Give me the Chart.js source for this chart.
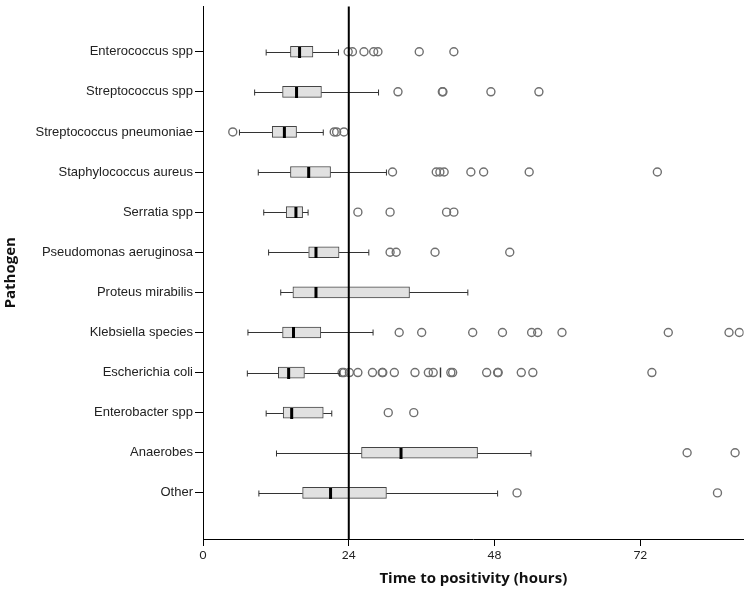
<!DOCTYPE html>
<html lang="en">
<head>
  <meta charset="UTF-8" />
  <title>Time to positivity by pathogen</title>
  <script src="https://cdn.jsdelivr.net/npm/chart.js"></script>
  <style>
    html, body { margin: 0; padding: 0; background: #fff; }
    #wrap { width: 750px; height: 594px; }
  </style>
</head>
<body>
  <div id="wrap"><canvas id="boxChart" width="750" height="594"></canvas></div>

  <script>
    // pathogens, top to bottom
    const pathogens = [
      "Enterococcus spp", "Streptococcus spp", "Streptococcus pneumoniae",
      "Staphylococcus aureus", "Serratia spp", "Pseudomonas aeruginosa",
      "Proteus mirabilis", "Klebsiella species", "Escherichia coli",
      "Enterobacter spp", "Anaerobes", "Other"
    ];

    // box plot summaries (hours)
    const whiskerLow  = [10.4,  8.5,  6.0,  9.1, 10.0, 10.8, 12.8,  7.4,  7.3, 10.4, 12.1,  9.2];
    const q1          = [14.4, 13.1, 11.4, 14.4, 13.7, 17.4, 14.8, 13.1, 12.4, 13.2, 26.1, 16.4];
    const medians     = [15.9, 15.4, 13.4, 17.4, 15.3, 18.6, 18.6, 14.9, 14.1, 14.6, 32.6, 21.0];
    const q3          = [18.1, 19.5, 15.4, 21.0, 16.4, 22.4, 34.0, 19.4, 16.7, 19.8, 45.2, 30.2];
    const whiskerHigh = [22.3, 28.9, 19.8, 30.2, 17.3, 27.3, 43.6, 28.0, 22.5, 21.2, 54.0, 48.5];

    // outliers per pathogen
    const outliers = [
      [23.9, 24.6, 26.5, 28.1, 28.8, 35.6, 41.3],
      [32.1, 39.4, 39.5, 47.4, 55.3],
      [4.9, 21.6, 22.0, 23.2],
      [31.2, 38.4, 39.0, 39.7, 44.1, 46.2, 53.7, 74.8],
      [25.5, 30.8, 40.1, 41.3],
      [30.8, 31.8, 38.2, 50.5],
      [],
      [32.3, 36.0, 44.4, 49.3, 54.1, 55.1, 59.1, 76.6, 86.6, 88.3],
      [22.9, 23.2, 24.1, 25.5, 27.9, 29.5, 29.6, 31.5, 34.9, 37.1, 37.9, 40.8, 41.1, 46.7, 48.5, 48.6, 52.4, 54.3, 73.9],
      [30.5, 34.7],
      [79.7, 87.6],
      [51.7, 84.7]
    ];
    // odd tick mark in the E. coli row
    const ecoliMark = [39.1];

    const xTicks = [0, 24, 48, 72];
    const xMax = 89;
    const refLine = 24;

    const BOX_H = 11;

    const outlierPoints = [];
    outliers.forEach((vals, i) => vals.forEach(v => outlierPoints.push({ x: v, y: i })));

    const boxExtras = {
      id: "boxExtras",
      afterDatasetsDraw(chart) {
        const { ctx, chartArea } = chart;
        const xs = chart.scales.x, ys = chart.scales.y;
        ctx.save();
        ctx.strokeStyle = "#333";
        ctx.lineWidth = 1;
        pathogens.forEach((p, i) => {
          const yp = Math.round(ys.getPixelForValue(i)) + 0.5;
          const lo = xs.getPixelForValue(whiskerLow[i]);
          const a = xs.getPixelForValue(q1[i]);
          const b = xs.getPixelForValue(q3[i]);
          const hi = xs.getPixelForValue(whiskerHigh[i]);
          ctx.beginPath();
          ctx.moveTo(lo, yp); ctx.lineTo(a, yp);
          ctx.moveTo(b, yp); ctx.lineTo(hi, yp);
          ctx.moveTo(lo, yp - 3); ctx.lineTo(lo, yp + 3);
          ctx.moveTo(hi, yp - 3); ctx.lineTo(hi, yp + 3);
          ctx.stroke();
          const m = xs.getPixelForValue(medians[i]);
          ctx.fillStyle = "#000";
          ctx.fillRect(m - 1.5, yp - BOX_H / 2, 3, BOX_H);
        });
        // 24 h reference line
        const rx = xs.getPixelForValue(refLine);
        ctx.strokeStyle = "#000";
        ctx.lineWidth = 2;
        ctx.beginPath();
        ctx.moveTo(rx, chartArea.top);
        ctx.lineTo(rx, chartArea.bottom);
        ctx.stroke();
        ctx.restore();
      }
    };

    new Chart(document.getElementById("boxChart"), {
      type: "bar",
      data: {
        datasets: [
          {
            type: "bar",
            indexAxis: "y",
            data: pathogens.map((p, i) => ({ x: [q1[i], q3[i]], y: i })),
            backgroundColor: "#e1e1e1",
            borderColor: "#444",
            borderWidth: 1,
            borderSkipped: false,
            barThickness: BOX_H
          },
          {
            type: "scatter",
            data: outlierPoints,
            pointStyle: "circle",
            pointRadius: 4,
            pointBorderWidth: 1.4,
            pointBorderColor: "#707070",
            pointBackgroundColor: "rgba(0,0,0,0)"
          },
          {
            type: "scatter",
            data: ecoliMark.map(v => ({ x: v, y: pathogens.indexOf("Escherichia coli") })),
            pointStyle: "line",
            rotation: 90,
            pointRadius: 5,
            pointBorderWidth: 1.4,
            pointBorderColor: "#333"
          }
        ]
      },
      options: {
        responsive: false,
        animation: false,
        layout: { padding: { top: 3, right: 4, left: 0, bottom: 0 } },
        plugins: { legend: { display: false }, tooltip: { enabled: false } },
        scales: {
          x: {
            type: "linear",
            offset: false,
            min: 0,
            max: xMax,
            afterBuildTicks: s => { s.ticks = xTicks.map(v => ({ value: v })); },
            afterFit: s => { s.height = 55; s.paddingLeft = 0; s.paddingRight = 0; },
            grid: { offset: false, drawOnChartArea: false, drawTicks: true, tickLength: 7, color: "#000" },
            border: { display: true, color: "#000", width: 1 },
            ticks: { color: "#222", padding: 2, font: { family: "Lato", size: 12 } },
            title: {
              display: true,
              text: "Time to positivity (hours)",
              color: "#111",
              font: { family: "Open Sans", size: 15, weight: "bold" },
              padding: { top: 4, bottom: 6 }
            }
          },
          y: {
            type: "linear",
            reverse: true,
            offset: false,
            min: -1.13,
            max: pathogens.length - 1 + 1.15,
            afterBuildTicks: s => { s.ticks = pathogens.map((p, i) => ({ value: i })); },
            afterFit: s => { s.width = 203; s.paddingTop = 0; s.paddingBottom = 0; },
            grid: { offset: false, drawOnChartArea: false, drawTicks: true, tickLength: 8, color: "#000" },
            border: { display: true, color: "#000", width: 1 },
            ticks: {
              color: "#222",
              padding: 2,
              autoSkip: false,
              font: { family: "Liberation Sans", size: 13 },
              callback: v => pathogens[v]
            },
            title: {
              display: true,
              text: "Pathogen",
              color: "#111",
              font: { family: "Open Sans", size: 15, weight: "bold" },
              padding: { top: 2, bottom: 0 }
            }
          }
        }
      },
      plugins: [boxExtras]
    });
  </script>
</body>
</html>
